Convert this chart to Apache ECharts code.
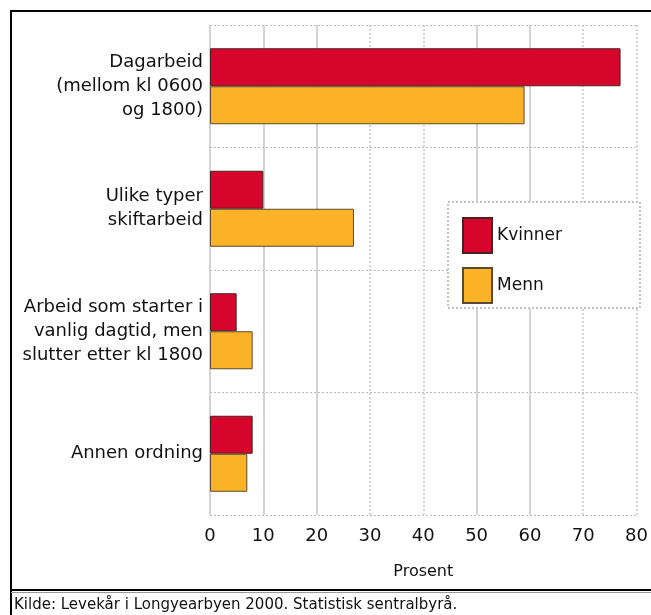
<!DOCTYPE html>
<html>
<head>
<meta charset="utf-8">
<script src="https://cdn.jsdelivr.net/npm/echarts@6/dist/echarts.min.js"></script>
<style>
  html, body { margin: 0; padding: 0; background: #fff; }
  #chart { width: 651px; height: 615px; }
</style>
</head>
<body>
<div id="chart"></div>
<script>
  var categories = [
    'Dagarbeid\n(mellom kl 0600\nog 1800)',
    'Ulike typer\nskiftarbeid',
    'Arbeid som starter i\nvanlig dagtid, men\nslutter etter kl 1800',
    'Annen ordning'
  ];
  var kvinner = [77, 10, 5, 8];
  var menn = [59, 27, 8, 7];
  var solidTicks = [0, 10, 20, 50, 60];
  var dottedTicks = [30, 40, 70, 80];

  var font = "'DejaVu Sans', sans-serif";
  var RED = '#d7052b';
  var ORANGE = '#fbb227';

  var chart = echarts.init(document.getElementById('chart'));

  chart.setOption({
    backgroundColor: '#fff',
    animation: false,
    textStyle: { fontFamily: font, color: '#111' },
    grid: { left: 210, right: 12, top: 25, bottom: 100 },
    xAxis: {
      type: 'value',
      min: 0, max: 80, interval: 10,
      axisLine: { show: false },
      axisTick: { show: false },
      splitLine: { show: false },
      axisLabel: { fontSize: 18, color: '#111', margin: 12, fontFamily: font },
      name: 'Prosent',
      nameLocation: 'middle',
      nameGap: 49,
      nameTextStyle: { fontSize: 16, color: '#111', fontFamily: font }
    },
    yAxis: {
      type: 'category',
      inverse: true,
      data: categories,
      axisLine: { show: false },
      axisTick: { show: false },
      axisLabel: { fontSize: 18, lineHeight: 24, color: '#111', margin: 7, fontFamily: font },
      splitLine: { show: true, lineStyle: { color: '#bdbdbd', type: [2, 2], width: 1 } }
    },
    legend: {
      orient: 'vertical',
      left: 462, top: 217,
      padding: 0,
      icon: 'rect',
      itemWidth: 29, itemHeight: 35, itemGap: 13,
      textStyle: { fontSize: 17, color: '#111', fontFamily: font },
      data: ['Kvinner', 'Menn']
    },
    graphic: [
      {
        type: 'rect', z: 3,
        shape: { x: 448, y: 202, width: 192, height: 106 },
        style: { fill: '#fff', stroke: '#c4c4c4', lineWidth: 2, lineDash: [2, 2] }
      },
      {
        type: 'rect', z: 10, silent: true,
        shape: { x: 11, y: 11, width: 660, height: 640 },
        style: { fill: 'none', stroke: '#000', lineWidth: 2 }
      },
      {
        type: 'line', z: 10, silent: true,
        shape: { x1: 11, y1: 590, x2: 651, y2: 590 },
        style: { stroke: '#000', lineWidth: 2 }
      },
      {
        type: 'line', z: 10, silent: true,
        shape: { x1: 11, y1: 592.5, x2: 651, y2: 592.5 },
        style: { stroke: '#999', lineWidth: 1 }
      },
      {
        type: 'text', z: 10,
        left: 14, top: 598,
        style: {
          text: 'Kilde: Levekår i Longyearbyen 2000. Statistisk sentralbyrå.',
          fontSize: 15, fontFamily: font, fill: '#111'
        }
      }
    ],
    series: [
      {
        name: 'Kvinner',
        type: 'bar',
        data: kvinner,
        barWidth: 38,
        barGap: '0%',
        itemStyle: { color: RED, borderColor: '#4a2020', borderWidth: 1 },
        markLine: {
          silent: true,
          symbol: 'none',
          label: { show: false },
          z: 1,
          data: solidTicks.map(function (v) {
            return { xAxis: v, lineStyle: { color: '#c6c6c6', type: 'solid', width: 1.5 } };
          }).concat(dottedTicks.map(function (v) {
            return { xAxis: v, lineStyle: { color: '#c6c6c6', type: [2, 2], width: 1.5 } };
          }))
        }
      },
      {
        name: 'Menn',
        type: 'bar',
        data: menn,
        barWidth: 38,
        barGap: '0%',
        itemStyle: { color: ORANGE, borderColor: '#5a4a30', borderWidth: 1 }
      }
    ]
  });
</script>
</body>
</html>
